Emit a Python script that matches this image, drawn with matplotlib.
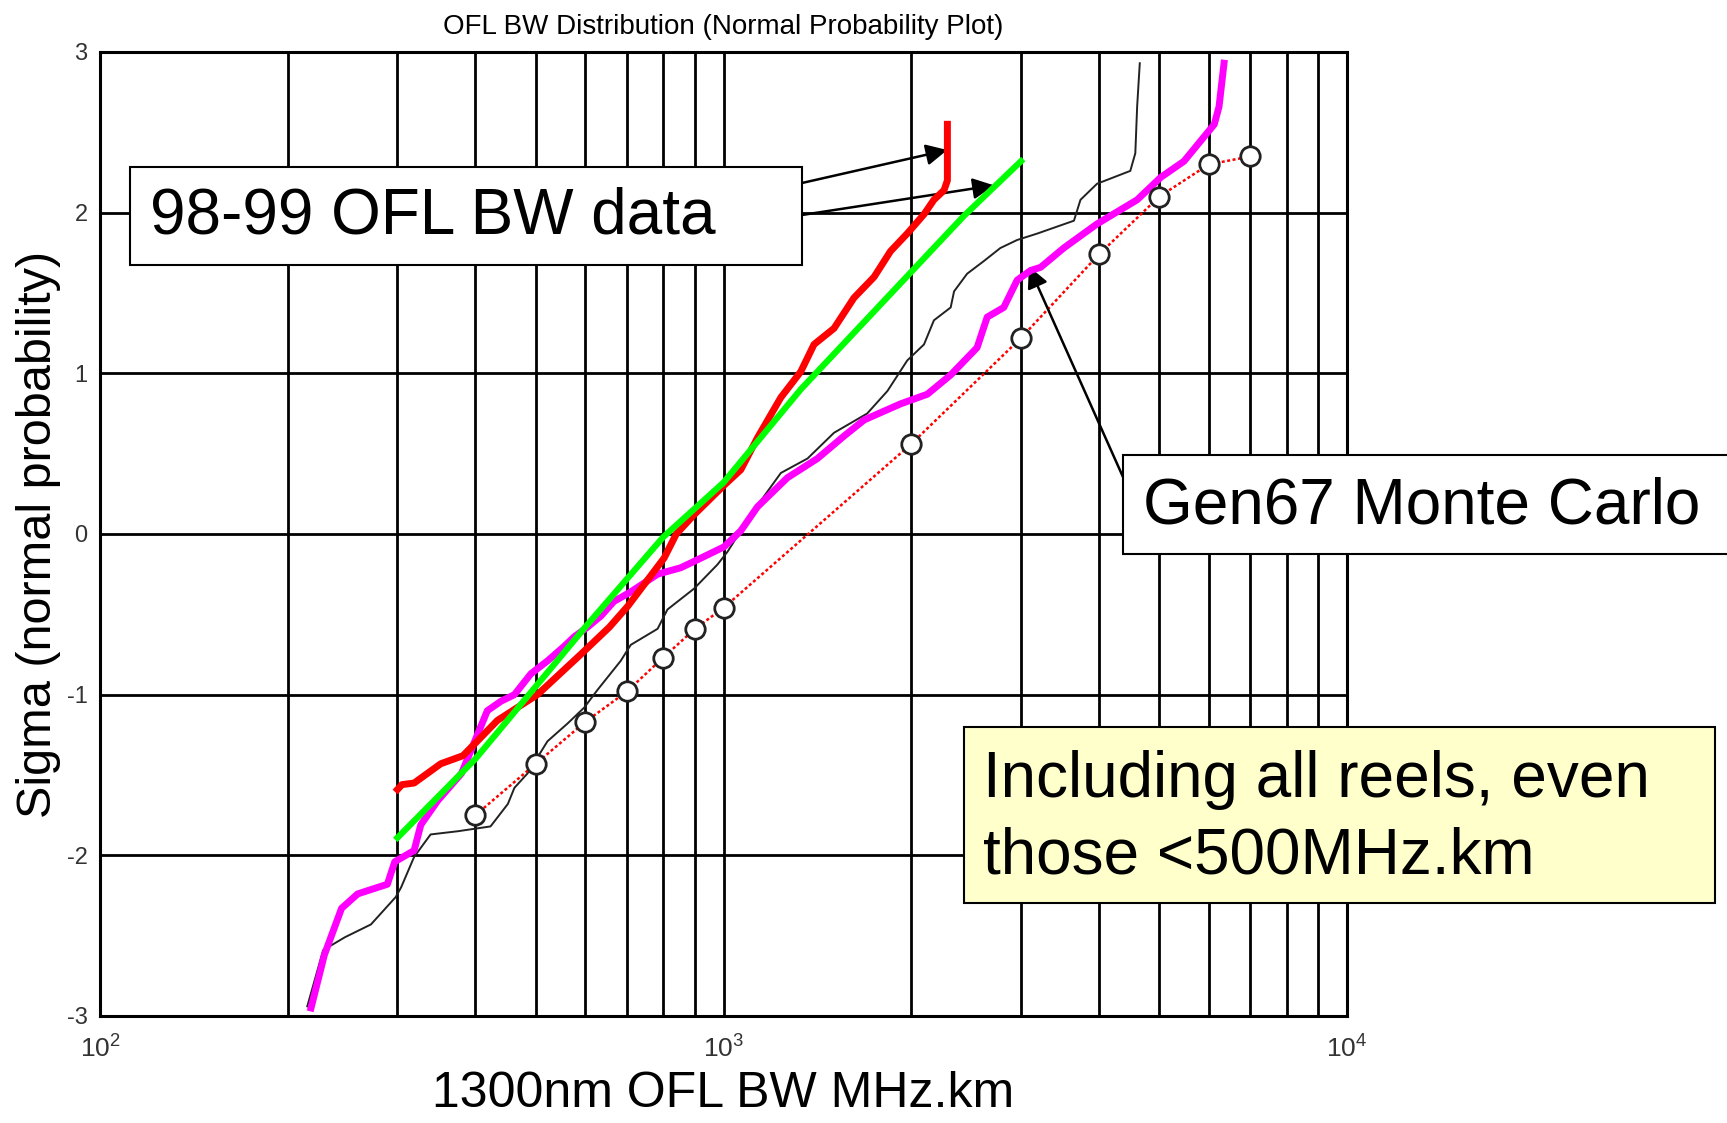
import matplotlib
matplotlib.use('Agg')
import matplotlib.pyplot as plt
from matplotlib.patches import Rectangle
from matplotlib.ticker import NullFormatter, LogLocator

plt.rcParams['font.family'] = ['Liberation Sans', 'DejaVu Sans']
plt.rcParams['mathtext.fontset'] = 'custom'
plt.rcParams['mathtext.rm'] = 'Liberation Sans'
plt.rcParams['mathtext.it'] = 'Liberation Sans:italic'
plt.rcParams['axes.unicode_minus'] = False

# ---------------- data ----------------
# 98-99 OFL BW data (red)
red_x = [300, 305, 319, 352, 382, 398, 434, 503, 590, 656, 702, 803, 840, 897, 1000, 1066,
         1134, 1236, 1330, 1397, 1504, 1619, 1744, 1853, 1971, 2097, 2175, 2258, 2286, 2286]
red_y = [-1.59, -1.56, -1.55, -1.43, -1.38, -1.31, -1.16, -1.00, -0.75, -0.58, -0.45, -0.15, 0.00,
         0.12, 0.30, 0.40, 0.60, 0.85, 1.01, 1.18, 1.28, 1.47, 1.60, 1.76, 1.87, 1.99, 2.08,
         2.14, 2.20, 2.55]

# 98-99 OFL BW data fit (green)
green_x = [300, 400, 600, 700, 800, 1000, 1330, 2430, 3000]
green_y = [-1.89, -1.40, -0.58, -0.28, -0.02, 0.32, 0.90, 1.98, 2.32]

# Gen67 Monte Carlo (magenta)
mag_x = [218, 229, 244, 259, 289, 297, 319, 327, 348, 380, 403, 418, 440, 462, 491, 522, 555,
         576, 605, 636, 667, 710, 784, 854, 920, 1002, 1066, 1134, 1266, 1415, 1561, 1681, 1923,
         2123, 2314, 2551, 2648, 2815, 2958, 3108, 3226, 3513, 3973, 4607, 5027, 5477, 6126,
         6234, 6350]
mag_y = [-2.95, -2.62, -2.33, -2.24, -2.18, -2.04, -1.97, -1.81, -1.66, -1.49, -1.25, -1.10,
         -1.04, -1.00, -0.87, -0.79, -0.70, -0.64, -0.58, -0.51, -0.42, -0.36, -0.25, -0.21,
         -0.15, -0.08, 0.02, 0.17, 0.35, 0.47, 0.61, 0.71, 0.81, 0.87, 0.99, 1.16, 1.35, 1.41,
         1.58, 1.64, 1.66, 1.78, 1.93, 2.08, 2.22, 2.32, 2.55, 2.66, 2.93]

# second Monte Carlo trace (thin black)
blk_x = [215, 228, 247, 272, 298, 304, 319, 339, 375, 423, 451, 462, 485, 522, 562, 598, 628,
         684, 710, 784, 813, 897, 978, 1015, 1120, 1236, 1364, 1504, 1700, 1832, 1971, 2097,
         2175, 2314, 2343, 2459, 2618, 2780, 2958, 3186, 3648, 3737, 3973, 4492, 4576, 4607, 4652]
blk_y = [-2.94, -2.59, -2.51, -2.43, -2.26, -2.20, -2.01, -1.87, -1.85, -1.82, -1.68, -1.58,
         -1.49, -1.29, -1.18, -1.08, -0.97, -0.79, -0.69, -0.59, -0.47, -0.34, -0.19, -0.11,
         0.15, 0.38, 0.47, 0.63, 0.75, 0.89, 1.08, 1.18, 1.33, 1.41, 1.51, 1.62, 1.70, 1.78,
         1.83, 1.87, 1.95, 2.08, 2.18, 2.26, 2.37, 2.66, 2.93]

# circles on red dotted line
circ_x = [400, 500, 600, 700, 800, 900, 1000, 2000, 3000, 4000, 5000, 6000, 7000]
circ_y = [-1.75, -1.43, -1.17, -0.98, -0.77, -0.59, -0.46, 0.56, 1.22, 1.74, 2.10, 2.30, 2.35]

y_ticks = [-3, -2, -1, 0, 1, 2, 3]
y_ticklabels = ['-3', '-2', '-1', '0', '1', '2', '3']
x_ticks = [100, 1000, 10000]
x_ticklabels = ['$10^{2}$', '$10^{3}$', '$10^{4}$']

title = 'OFL BW Distribution (Normal Probability Plot)'
xlabel = '1300nm OFL BW MHz.km'
ylabel = 'Sigma (normal probability)'
label_data = '98-99 OFL BW data'
label_mc = 'Gen67 Monte Carlo'
note_lines = ['Including all reels, even', 'those <500MHz.km']

# arrow targets (data coords)
arrow_red = (2285, 2.39)
arrow_green = (2715, 2.17)
arrow_mag = (3089, 1.665)

# ---------------- figure ----------------
W, H = 1727, 1123
fig = plt.figure(figsize=(W / 100, H / 100), dpi=100)
fig.patch.set_facecolor('white')


def fx(px):
    return px / W


def fy(py):
    return 1 - py / H


ax = fig.add_axes([fx(100), fy(1016), (1347 - 100) / W, (1016 - 52) / H])
ax.set_xscale('log')
ax.set_xlim(100, 10000)
ax.set_ylim(-3, 3)
ax.set_xticks(x_ticks)
ax.set_xticklabels(x_ticklabels, fontsize=19, color='#333333')
ax.xaxis.set_minor_locator(LogLocator(base=10, subs=[2, 3, 4, 5, 6, 7, 8, 9]))
ax.xaxis.set_minor_formatter(NullFormatter())
ax.set_yticks(y_ticks)
ax.set_yticklabels(y_ticklabels, fontsize=17, color='#333333')
ax.tick_params(which='both', length=0)
ax.tick_params(axis='y', pad=9)
ax.tick_params(axis='x', pad=14)
ax.set_axisbelow(True)
ax.grid(True, which='both', color='black', lw=2.0)
for s in ax.spines.values():
    s.set_linewidth(2.2)
    s.set_color('black')

ax.plot(blk_x, blk_y, color='#222222', lw=1.4, zorder=3)
ax.plot(circ_x, circ_y, color='red', lw=1.8, ls=(0, (1.2, 1.0)), zorder=3)
ax.plot(mag_x, mag_y, color='#FF00FF', lw=5, zorder=4, solid_joinstyle='round')
ax.plot(red_x, red_y, color='#FF0000', lw=5, zorder=5, solid_joinstyle='round')
ax.plot(green_x, green_y, color='#00FF00', lw=4.5, zorder=6, solid_joinstyle='round')
ax.plot(circ_x, circ_y, 'o', mfc='white', mec='#222222', ms=14, mew=2, zorder=7)

ax.set_title(title, fontsize=20, pad=13)
ax.set_xlabel(xlabel, fontsize=36, labelpad=6)
ax.set_ylabel(ylabel, fontsize=35, labelpad=4)

# text boxes
fig.add_artist(Rectangle((fx(130), fy(265)), (802 - 130) / W, (265 - 167) / H,
                         transform=fig.transFigure, fc='white', ec='black', lw=1.5, zorder=10))
fig.text(fx(150), fy(216), label_data, fontsize=46, ha='left', va='center', zorder=11)

fig.add_artist(Rectangle((fx(1123), fy(554)), (1760 - 1123) / W, (554 - 455) / H,
                         transform=fig.transFigure, fc='white', ec='black', lw=1.5, zorder=10))
fig.text(fx(1143), fy(506), label_mc, fontsize=46, ha='left', va='center', zorder=11)

fig.add_artist(Rectangle((fx(964), fy(903)), (1715 - 964) / W, (903 - 727) / H,
                         transform=fig.transFigure, fc='#FFFFCC', ec='black', lw=1.5, zorder=10))
fig.text(fx(983), fy(780), note_lines[0], fontsize=46, ha='left', va='center', zorder=11)
fig.text(fx(983), fy(856), note_lines[1], fontsize=46, ha='left', va='center', zorder=11)

arrow_kw = dict(arrowstyle='-|>', color='black', lw=1.8, mutation_scale=32,
                shrinkA=0, shrinkB=0)
ax.annotate('', xy=arrow_red, xycoords='data', xytext=(fx(802), fy(183)),
            textcoords='figure fraction', arrowprops=arrow_kw, annotation_clip=False)
ax.annotate('', xy=arrow_green, xycoords='data', xytext=(fx(802), fy(215)),
            textcoords='figure fraction', arrowprops=arrow_kw, annotation_clip=False)
ax.annotate('', xy=arrow_mag, xycoords='data', xytext=(fx(1123), fy(477)),
            textcoords='figure fraction', arrowprops=arrow_kw, annotation_clip=False)

fig.savefig('out.png', dpi=100)
